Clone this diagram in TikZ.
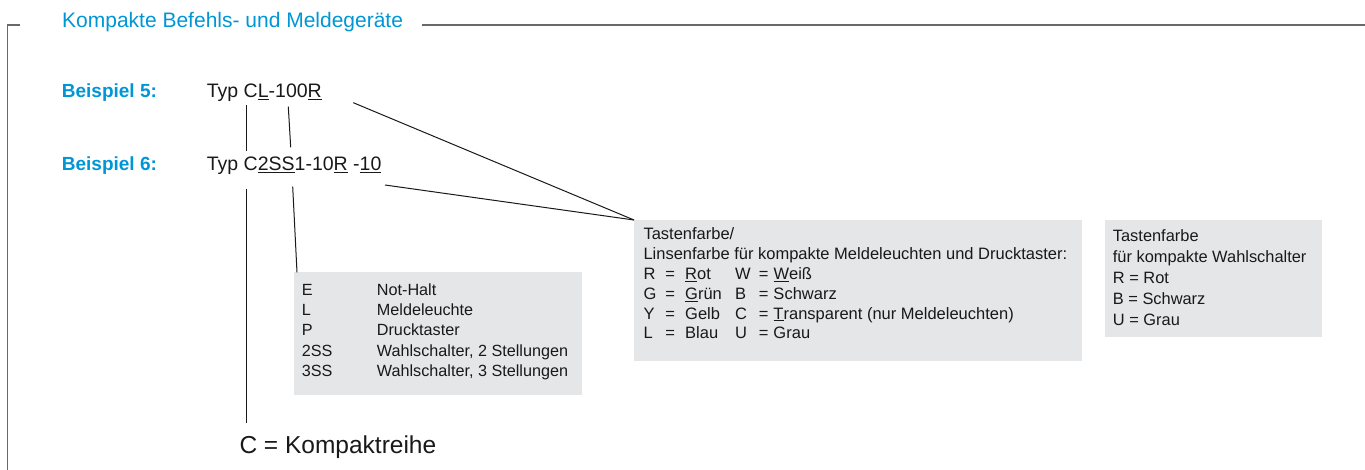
\documentclass[tikz,border=0pt]{standalone}
\usepackage{fontspec}
\setmainfont{Liberation Sans}
\definecolor{sblue}{RGB}{0,150,214}
\definecolor{boxgray}{RGB}{229,230,232}
\definecolor{framegray}{RGB}{105,105,105}
\definecolor{txt}{RGB}{25,25,25}
\begin{document}
\begin{tikzpicture}[x=1pt,y=-1pt,
  conn/.style={draw=txt, line width=1pt},
  framel/.style={draw=framegray, line width=1.4pt},
  gbox/.style={fill=boxgray, draw=none, inner sep=0pt, anchor=north west},
  lbl/.style={anchor=base west, inner sep=0pt, text=txt},
  titlel/.style={anchor=base west, inner sep=0pt, text=sblue, font=\fontsize{21}{25}\selectfont},
  bsp/.style={anchor=base west, inner sep=0pt, text=sblue, font=\bfseries\fontsize{19}{23}\selectfont},
  code/.style={lbl, font=\fontsize{19.5}{23}\selectfont},
]
\useasboundingbox (0,0) rectangle (1365,470);

% frame
\node[titlel] (title) at (62,28) {Kompakte Befehls- und Meldegeräte};
\coordinate (fb) at (7.5,471);
\coordinate (fc) at (7.5,25);
\coordinate (ft1) at (20,25);
\coordinate (ft2) at (422,25);
\coordinate (fr) at (1366,25);
\draw[framel] (fb) -- (fc) -- (ft1);
\draw[framel] (ft2) -- (fr);

% examples
\node[bsp] (b5) at (61.7,97.5) {Beispiel 5:};
\node[bsp] (b6) at (61.7,170.5) {Beispiel 6:};
\node[code] (t5) at (206.7,97.5) {Typ C\underline{L}-100\underline{R}};
\node[code] (t6) at (206.7,170.5) {Typ C\underline{2SS}1-10\underline{R} -\underline{10}};
\node[lbl, font=\fontsize{24.5}{29}\selectfont] (komp) at (239.3,453) {C = Kompaktreihe};

% boxes
\node[gbox, minimum width=287.7pt, minimum height=122.7pt] (box1) at (294,272.3) {};
\node[gbox, minimum width=447.7pt, minimum height=140.7pt] (box2) at (634,220) {};
\node[gbox, minimum width=216.7pt, minimum height=116.7pt] (box3) at (1105,220) {};

\node[lbl, font=\fontsize{16.2}{20.4}\selectfont] (box1t) at (301.7,295) {%
\begin{tabular}[t]{@{}p{75pt}@{}l@{}}
E & Not-Halt\\
L & Meldeleuchte\\
P & Drucktaster\\
2SS & Wahlschalter, 2 Stellungen\\
3SS & Wahlschalter, 3 Stellungen
\end{tabular}};

\node[lbl, font=\fontsize{16.5}{19.8}\selectfont] (box2t) at (643.3,240) {%
\begin{tabular}[t]{@{}p{21.9pt}@{}p{19.8pt}@{}p{50pt}@{}p{23.7pt}@{}p{14.6pt}@{}l@{}}
\multicolumn{6}{@{}l@{}}{Tastenfarbe/}\\
\multicolumn{6}{@{}l@{}}{Linsenfarbe für kompakte Meldeleuchten und Drucktaster:}\\
R & = & \underline{R}ot & W & = & \underline{W}eiß\\
G & = & \underline{G}rün & B & = & Schwarz\\
Y & = & Gelb & C & = & \underline{T}ransparent (nur Meldeleuchten)\\
L & = & Blau & U & = & Grau
\end{tabular}};

\node[lbl, font=\fontsize{16.4}{21}\selectfont] (box3t) at (1112.7,241.7) {%
\begin{tabular}[t]{@{}l@{}}
Tastenfarbe\\
für kompakte Wahlschalter\\
R = Rot\\
B = Schwarz\\
U = Grau
\end{tabular}};

% connector end points
\coordinate (c5C) at (246.3,105);
\coordinate (c6Ct) at (246.3,150.7);
\coordinate (c5L) at (288.3,106.7);
\coordinate (c6St) at (290.7,147.3);
\coordinate (c5R) at (353.3,102.7);
\coordinate (c6ten) at (385,185);
\coordinate (c6Cb) at (246.3,189.3);
\coordinate (ckomp) at (246.3,423.3);
\coordinate (c6Sb) at (292.7,186.7);

\draw[conn] (c5C) -- (c6Ct);
\draw[conn] (c5L) -- (c6St);
\draw[conn] (c5R) -- (box2.north west);
\draw[conn] (c6ten) -- (box2.north west);
\draw[conn] (c6Cb) -- (ckomp);
\draw[conn] (c6Sb) -- ([xshift=3pt]box1.north west);
\end{tikzpicture}
\end{document}
